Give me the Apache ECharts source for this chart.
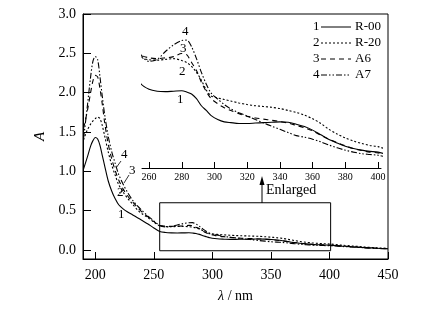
<!DOCTYPE html>
<html><head><meta charset="utf-8">
<script src="https://cdn.jsdelivr.net/npm/echarts@6/dist/echarts.min.js"></script>
<style>html,body{margin:0;padding:0;background:#fff}#c{width:436px;height:314px}</style>
</head><body><div id="c"></div>
<script>
var wavelengths = [190,193,196,198,200,202,204,206,208,211,214,217,220,224,228,232,236,240,245,250,255,260,265,270,275,280,283,286,289,292,295,298,302,306,310,315,320,325,330,335,340,345,350,355,360,365,370,375,380,385,390,395,400,410,420,430,440,450];
var r00 = [1.03,1.17,1.32,1.39,1.43,1.41,1.33,1.20,1.07,0.88,0.75,0.65,0.575,0.52,0.48,0.445,0.41,0.375,0.33,0.28,0.236,0.222,0.217,0.216,0.217,0.218,0.215,0.21,0.198,0.18,0.168,0.155,0.145,0.139,0.137,0.135,0.135,0.136,0.137,0.138,0.139,0.138,0.133,0.127,0.118,0.106,0.094,0.085,0.077,0.071,0.067,0.064,0.062,0.05,0.04,0.03,0.022,0.015];
var r20 = [1.40,1.52,1.60,1.64,1.67,1.69,1.67,1.58,1.45,1.25,1.08,0.95,0.83,0.73,0.65,0.58,0.51,0.46,0.41,0.355,0.305,0.297,0.296,0.298,0.30,0.295,0.29,0.28,0.265,0.245,0.22,0.205,0.20,0.196,0.192,0.187,0.183,0.18,0.178,0.176,0.173,0.168,0.163,0.156,0.147,0.135,0.12,0.108,0.098,0.09,0.084,0.079,0.076,0.062,0.05,0.038,0.028,0.02];
var a6 = [1.55,1.75,2.00,2.15,2.22,2.20,2.05,1.85,1.62,1.35,1.16,1.01,0.89,0.77,0.68,0.61,0.54,0.48,0.42,0.36,0.31,0.302,0.30,0.302,0.305,0.313,0.31,0.29,0.27,0.24,0.216,0.198,0.185,0.175,0.168,0.16,0.153,0.149,0.146,0.143,0.14,0.136,0.13,0.124,0.116,0.105,0.095,0.086,0.078,0.071,0.066,0.062,0.06,0.05,0.04,0.03,0.022,0.015];
var a7 = [1.42,1.80,2.20,2.40,2.46,2.42,2.20,1.95,1.72,1.45,1.25,1.10,0.96,0.83,0.72,0.63,0.56,0.50,0.43,0.37,0.31,0.293,0.298,0.318,0.335,0.346,0.347,0.33,0.30,0.265,0.235,0.212,0.197,0.183,0.172,0.162,0.154,0.145,0.136,0.128,0.12,0.112,0.104,0.10,0.095,0.088,0.08,0.073,0.067,0.062,0.058,0.056,0.054,0.045,0.036,0.028,0.02,0.014];
var names = ['R-00','R-20','A6','A7'];
var nums = ['1','2','3','4'];
var mainXTicks = [200,250,300,350,400,450];
var mainYTicks = [0,0.5,1.0,1.5,2.0,2.5,3.0];
var insetXTicks = [260,280,300,320,340,360,380,400];

var serif = 'Liberation Serif';
var dashes = ['solid',[2,2],[5,4],[6,2,1.5,2,1.5,2]];
var seriesData = [r00,r20,a6,a7];
function pairs(arr){return wavelengths.map(function(w,i){return [w,arr[i]];});}

var series = [];
seriesData.forEach(function(d,i){
  var s = {type:'line',xAxisIndex:0,yAxisIndex:0,data:pairs(d),showSymbol:false,smooth:0.3,
    lineStyle:{color:'#000',width:1.1,type:dashes[i]},silent:true,z:3};
  if(i===0){
    s.markArea={silent:true,itemStyle:{color:'rgba(0,0,0,0)',borderColor:'#000',borderWidth:1},
      data:[[{xAxis:255,yAxis:-0.01},{xAxis:401,yAxis:0.6}]]};
  }
  series.push(s);
});
seriesData.forEach(function(d,i){
  series.push({type:'line',xAxisIndex:1,yAxisIndex:1,data:pairs(d),showSymbol:false,smooth:0.3,clip:true,
    lineStyle:{color:'#000',width:1.1,type:dashes[i]},silent:true,z:4});
});

var graphics = [];
var legY = [27,43,59,75];
for(var i=0;i<4;i++){
  graphics.push({type:'text',left:313,top:legY[i]-7,style:{text:nums[i],font:'13px '+serif,fill:'#000'}});
  graphics.push({type:'line',shape:{x1:321,y1:legY[i],x2:351,y2:legY[i]},style:{stroke:'#000',lineWidth:1,lineDash:dashes[i]==='solid'?null:dashes[i]}});
  graphics.push({type:'text',left:355,top:legY[i]-7,style:{text:names[i],font:'13px '+serif,fill:'#000'}});
}
var lbl = [['1',118,208],['2',117,186],['3',129,164],['4',121,148]];
lbl.forEach(function(l){graphics.push({type:'text',left:l[1],top:l[2],style:{text:l[0],font:'13px '+serif,fill:'#000'}});});
graphics.push({type:'line',shape:{x1:121,y1:161,x2:116,y2:168},style:{stroke:'#000',lineWidth:0.8}});
graphics.push({type:'line',shape:{x1:129,y1:175,x2:124,y2:183},style:{stroke:'#000',lineWidth:0.8}});
graphics.push({type:'line',shape:{x1:119,y1:193,x2:124,y2:190},style:{stroke:'#000',lineWidth:0.8}});
var ilbl = [['4',182,25],['3',180,42],['2',179,65],['1',177,93]];
ilbl.forEach(function(l){graphics.push({type:'text',left:l[1],top:l[2],style:{text:l[0],font:'13px '+serif,fill:'#000'}});});
graphics.push({type:'line',shape:{x1:262,y1:203,x2:262,y2:183},style:{stroke:'#000',lineWidth:1}});
graphics.push({type:'polygon',shape:{points:[[262,176],[259.5,185],[264.5,185]]},style:{fill:'#000'}});
graphics.push({type:'text',left:266,top:183,style:{text:'Enlarged',font:'14px '+serif,fill:'#000'}});

var chart = echarts.init(document.getElementById('c'),null,{renderer:'canvas'});
chart.setOption({
  backgroundColor:'#fff',
  animation:false,
  grid:[
    {left:83,top:14,width:305,height:245,show:true,borderColor:'#000',borderWidth:1,backgroundColor:'transparent'},
    {left:142,top:14,width:239,height:154,show:false}
  ],
  xAxis:[
    {type:'value',gridIndex:0,min:189.5,max:450,
      axisLine:{show:true,onZero:false,lineStyle:{color:'#000',width:1}},
      axisTick:{show:true,inside:true,length:7,customValues:mainXTicks,lineStyle:{color:'#000'}},
      axisLabel:{customValues:mainXTicks,color:'#000',fontFamily:serif,fontSize:14,margin:9},
      splitLine:{show:false},
      name:'{i|λ} / nm',nameLocation:'middle',nameGap:30,
      nameTextStyle:{color:'#000',fontFamily:serif,fontSize:14,rich:{i:{fontStyle:'italic',fontFamily:serif,fontSize:14}}}},
    {type:'value',gridIndex:1,min:255.7,max:401.8,
      axisLine:{show:true,onZero:false,lineStyle:{color:'#000',width:1}},
      axisTick:{show:true,inside:true,length:6,customValues:insetXTicks,lineStyle:{color:'#000'}},
      axisLabel:{customValues:insetXTicks,color:'#000',fontFamily:serif,fontSize:10,margin:4},
      splitLine:{show:false}}
  ],
  yAxis:[
    {type:'value',gridIndex:0,min:-0.115,max:3.0,
      axisLine:{show:true,onZero:false,lineStyle:{color:'#000',width:1}},
      axisTick:{show:true,inside:true,length:8,customValues:mainYTicks,lineStyle:{color:'#000'}},
      axisLabel:{customValues:mainYTicks,color:'#000',fontFamily:serif,fontSize:14,margin:7,
        formatter:function(v){return v.toFixed(1);}},
      splitLine:{show:false},
      name:'A',nameLocation:'middle',nameGap:34,
      nameTextStyle:{color:'#000',fontFamily:serif,fontSize:15,fontStyle:'italic'}},
    {type:'value',gridIndex:1,min:0.0216,max:0.4135,show:false,splitLine:{show:false}}
  ],
  series:series,
  graphic:graphics
});
</script></body></html>
